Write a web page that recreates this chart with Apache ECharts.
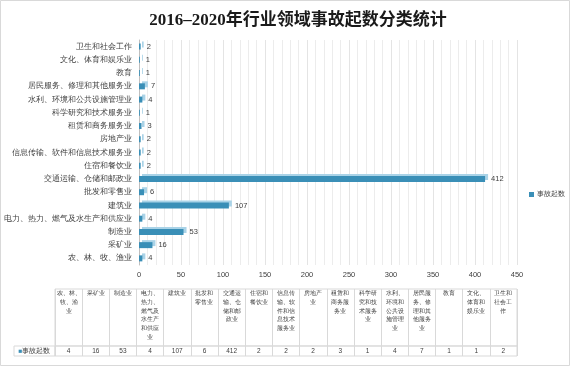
<!DOCTYPE html>
<html>
<head>
<meta charset="utf-8">
<script src="https://cdn.jsdelivr.net/npm/echarts@6/dist/echarts.min.js"></script>
<style>
html,body{margin:0;padding:0;background:#fff;}
#chart{width:572px;height:369px;}
</style>
</head>
<body>
<div id="chart"></div>
<script>
const titleText = '2016–2020年行业领域事故起数分类统计';
const seriesName = '事故起数';
const categories = [
  '农、林、牧、渔业', '采矿业', '制造业', '电力、热力、燃气及水生产和供应业', '建筑业',
  '批发和零售业', '交通运输、仓储和邮政业', '住宿和餐饮业', '信息传输、软件和信息技术服务业',
  '房地产业', '租赁和商务服务业', '科学研究和技术服务业', '水利、环境和公共设施管理业',
  '居民服务、修理和其他服务业', '教育', '文化、体育和娱乐业', '卫生和社会工作'
];
const values = [4, 16, 53, 4, 107, 6, 412, 2, 2, 2, 3, 1, 4, 7, 1, 1, 2];
const xMin = 0, xMax = 450, xInterval = 50;

const textColor = '#404040';
const gridColor = '#d9d9d9';
const barColor = '#3a8fb7';
const shadowCol = '#aad3e7';

// wrap CJK text into lines of 3 chars, keeping '、' attached to the previous line
function wrap(s) {
  const lines = [];
  let cur = '';
  for (const ch of s) {
    if (cur.length >= 3 && ch !== '、') { lines.push(cur); cur = ''; }
    cur += ch;
  }
  if (cur) lines.push(cur);
  return lines.join('\n');
}

const chart = echarts.init(document.getElementById('chart'), null, {renderer: 'canvas'});
const option = {
  backgroundColor: '#fff',
  animation: false,
  title: {
    text: titleText,
    left: 293, top: 7, textAlign: 'center',
    textStyle: {fontFamily: "'Liberation Serif', 'Noto Sans CJK SC', serif", fontSize: 17, fontWeight: 'bold', color: '#1a1a1a'}
  },
  legend: {
    data: [seriesName],
    left: 529, top: 191, padding: 0,
    icon: 'rect', itemWidth: 5, itemHeight: 5, itemGap: 3,
    itemStyle: {shadowColor: 'rgba(0,0,0,0)', shadowBlur: 0, shadowOffsetX: 0, shadowOffsetY: 0},
    textStyle: {fontSize: 6.8, color: textColor, padding: [0, 0, 0, -2]}
  },
  graphic: [{
    type: 'rect', silent: true,
    shape: {x: 0.5, y: 0.5, width: 569, height: 365},
    style: {fill: 'none', stroke: gridColor, lineWidth: 1}
  }],
  grid: [
    {left: 139, top: 40, width: 378, height: 225},
    {left: 55, top: 289, width: 462, height: 57, show: true, borderColor: gridColor, borderWidth: 1},
    {left: 55, top: 346, width: 462, height: 10, show: true, borderColor: gridColor, borderWidth: 1},
    {left: 14, top: 346, width: 41, height: 10, show: true, borderColor: gridColor, borderWidth: 1}
  ],
  xAxis: [
    {
      gridIndex: 0, type: 'value', min: xMin, max: xMax, interval: xInterval,
      axisLine: {show: false}, axisTick: {show: false},
      minorTick: {show: false, splitNumber: 5},
      splitLine: {show: true, lineStyle: {color: '#e4e4e4', width: 1}},
      minorSplitLine: {show: true, lineStyle: {color: '#ececec', width: 1}},
      axisLabel: {fontSize: 7.5, color: textColor, margin: 6}
    },
    {
      gridIndex: 1, type: 'category', data: categories, position: 'top',
      axisLine: {show: false}, axisTick: {show: false},
      splitLine: {show: true, interval: 0, lineStyle: {color: gridColor}},
      axisLabel: {inside: true, interval: 0, margin: 0, fontSize: 6, lineHeight: 8.8, color: textColor,
        verticalAlign: 'top', align: 'center', formatter: v => wrap(v)}
    },
    {
      gridIndex: 2, type: 'category', data: categories, position: 'top',
      axisLine: {show: false}, axisTick: {show: false},
      splitLine: {show: true, interval: 0, lineStyle: {color: gridColor}},
      axisLabel: {inside: true, interval: 0, margin: 5, fontSize: 6.5, color: textColor,
        verticalAlign: 'middle', align: 'center', formatter: (v, i) => String(values[i])}
    },
    {
      gridIndex: 3, type: 'category', data: [seriesName], position: 'top',
      axisLine: {show: false}, axisTick: {show: false}, splitLine: {show: false},
      axisLabel: {inside: true, interval: 0, margin: 5, verticalAlign: 'middle', align: 'center',
        formatter: v => '{sq|■}{t|' + v + '}',
        rich: {sq: {color: barColor, fontSize: 6.5}, t: {color: textColor, fontSize: 6.5}}}
    }
  ],
  yAxis: [
    {
      gridIndex: 0, type: 'category', data: categories,
      axisLine: {show: true, lineStyle: {color: '#bfbfbf'}},
      axisTick: {show: false},
      axisLabel: {interval: 0, fontSize: 7.5, color: textColor, margin: 7}
    },
    {gridIndex: 1, type: 'value', show: false},
    {gridIndex: 2, type: 'value', show: false},
    {gridIndex: 3, type: 'value', show: false}
  ],
  series: [{
    name: seriesName, type: 'bar', xAxisIndex: 0, yAxisIndex: 0,
    data: values, barWidth: 6,
    itemStyle: {color: barColor, shadowColor: shadowCol, shadowBlur: 0, shadowOffsetX: 3, shadowOffsetY: -2},
    label: {show: true, position: 'right', distance: 6, fontSize: 7.5, color: textColor},
    emphasis: {disabled: true}
  }]
};
chart.setOption(option);
</script>
</body>
</html>
